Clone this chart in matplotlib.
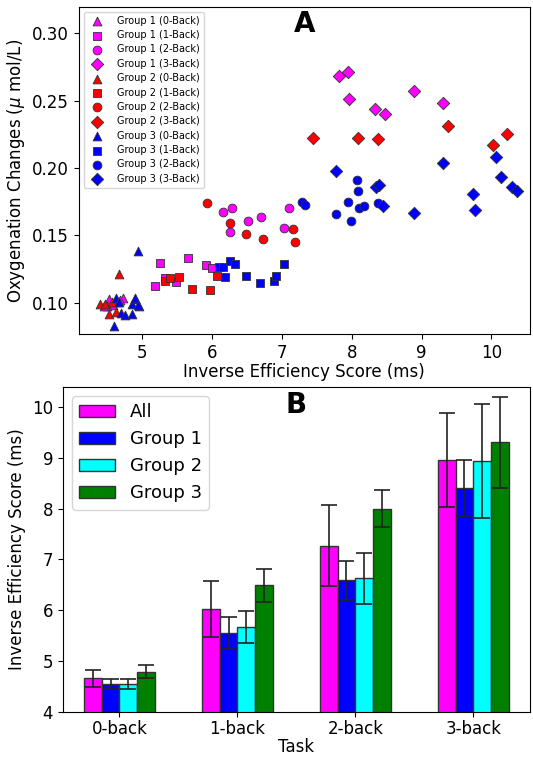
import matplotlib
matplotlib.use("Agg")
import matplotlib.pyplot as plt
import numpy as np

# ---------------- Panel A data ----------------
g1_0_x = [4.52, 4.72, 4.58, 4.49, 4.63, 4.45, 4.68]
g1_0_y = [0.1029, 0.1036, 0.0985, 0.0977, 0.1007, 0.0977, 0.1022]
g1_1_x = [5.25, 5.66, 5.18, 5.48, 5.91, 5.99, 5.33]
g1_1_y = [0.1294, 0.1335, 0.1123, 0.1157, 0.1281, 0.1257, 0.1182]
g1_2_x = [6.16, 6.28, 6.51, 6.70, 6.26, 7.03, 7.10]
g1_2_y = [0.1672, 0.1706, 0.1605, 0.1637, 0.1524, 0.1553, 0.1700]
g1_3_x = [7.81, 7.94, 7.96, 8.33, 8.48, 8.89, 9.30]
g1_3_y = [0.2685, 0.2710, 0.2515, 0.2438, 0.2404, 0.2574, 0.2485]

g2_0_x = [4.39, 4.46, 4.52, 4.56, 4.62, 4.66]
g2_0_y = [0.0992, 0.0992, 0.0918, 0.1007, 0.0933, 0.1215]
g2_1_x = [5.32, 5.40, 5.52, 5.71, 5.97, 6.07]
g2_1_y = [0.1165, 0.1182, 0.1192, 0.1105, 0.1098, 0.1202]
g2_2_x = [5.93, 6.26, 6.48, 6.73, 7.16, 7.19]
g2_2_y = [0.1743, 0.1593, 0.1513, 0.1476, 0.1548, 0.1454]
g2_3_x = [7.44, 8.09, 8.37, 9.38, 10.02, 10.22]
g2_3_y = [0.2221, 0.2226, 0.2218, 0.2315, 0.2171, 0.2251]

g3_0_x = [4.94, 4.59, 4.62, 4.66, 4.69, 4.75, 4.85, 4.90, 4.85, 4.95, 4.89, 4.93]
g3_0_y = [0.1387, 0.0829, 0.1036, 0.1007, 0.0925, 0.0910, 0.0918, 0.1029,
          0.0992, 0.0977, 0.1036, 0.0985]
g3_1_x = [6.10, 6.15, 6.26, 6.33, 6.19, 6.49, 6.68, 6.89, 6.91, 7.03]
g3_1_y = [0.1264, 0.1264, 0.1311, 0.1289, 0.1190, 0.1197, 0.1148, 0.1160,
          0.1199, 0.1291]
g3_2_x = [7.28, 7.33, 8.07, 8.09, 7.95, 7.77, 7.99, 8.11, 8.17, 8.38]
g3_2_y = [0.1746, 0.1729, 0.1912, 0.1832, 0.1749, 0.1662, 0.1605, 0.1700,
          0.1715, 0.1739]
g3_3_x = [7.78, 9.30, 8.35, 8.39, 8.45, 8.89, 9.74, 9.76, 10.06, 10.14, 10.29, 10.36]
g3_3_y = [0.1976, 0.2038, 0.1862, 0.1877, 0.1721, 0.1664, 0.1806, 0.1692,
          0.2080, 0.1936, 0.1860, 0.1830]

# ---------------- Panel B data ----------------
tasks = ["0-back", "1-back", "2-back", "3-back"]
bar_labels = ["All", "Group 1", "Group 2", "Group 3"]
ies_all = [4.66, 6.03, 7.27, 8.96]
ies_g1 = [4.55, 5.55, 6.59, 8.40]
ies_g2 = [4.55, 5.67, 6.63, 8.93]
ies_g3 = [4.79, 6.49, 8.00, 9.30]
err_all = [0.16, 0.55, 0.80, 0.92]
err_g1 = [0.09, 0.32, 0.38, 0.55]
err_g2 = [0.10, 0.31, 0.50, 1.12]
err_g3 = [0.125, 0.32, 0.37, 0.89]

fig = plt.figure(figsize=(5.33, 7.58), dpi=100)
axA = fig.add_axes([0.148, 0.5594, 0.846, 0.4314])
axB = fig.add_axes([0.118, 0.0607, 0.876, 0.4287])

series = [
    ("Group 1 (0-Back)", g1_0_x, g1_0_y, "magenta", "^"),
    ("Group 1 (1-Back)", g1_1_x, g1_1_y, "magenta", "s"),
    ("Group 1 (2-Back)", g1_2_x, g1_2_y, "magenta", "o"),
    ("Group 1 (3-Back)", g1_3_x, g1_3_y, "magenta", "D"),
    ("Group 2 (0-Back)", g2_0_x, g2_0_y, "red", "^"),
    ("Group 2 (1-Back)", g2_1_x, g2_1_y, "red", "s"),
    ("Group 2 (2-Back)", g2_2_x, g2_2_y, "red", "o"),
    ("Group 2 (3-Back)", g2_3_x, g2_3_y, "red", "D"),
    ("Group 3 (0-Back)", g3_0_x, g3_0_y, "blue", "^"),
    ("Group 3 (1-Back)", g3_1_x, g3_1_y, "blue", "s"),
    ("Group 3 (2-Back)", g3_2_x, g3_2_y, "blue", "o"),
    ("Group 3 (3-Back)", g3_3_x, g3_3_y, "blue", "D"),
]
for lab, xs, ys, c, m in series:
    axA.scatter(xs, ys, c=c, marker=m, s=40, edgecolors="#333333",
                linewidths=0.6, label=lab)
axA.set_xlim(4.09, 10.55)
axA.set_ylim(0.0769, 0.3195)
axA.set_xticks([5, 6, 7, 8, 9, 10])
axA.set_yticks([0.10, 0.15, 0.20, 0.25, 0.30])
axA.tick_params(labelsize=12)
axA.set_xlabel("Inverse Efficiency Score (ms)", fontsize=12, labelpad=1)
axA.set_ylabel(r"Oxygenation Changes ($\mu$ mol/L)", fontsize=12)
axA.legend(loc="upper left", fontsize=7, scatterpoints=1, labelspacing=0.45,
           handletextpad=1.0)
axA.text(0.5, 0.948, "A", transform=axA.transAxes, ha="center", va="center",
         fontsize=20, fontweight="bold")

x = np.arange(len(tasks))
w = 0.15
vals = [ies_all, ies_g1, ies_g2, ies_g3]
errs = [err_all, err_g1, err_g2, err_g3]
cols = ["magenta", "blue", "cyan", "green"]
for i in range(4):
    axB.bar(x + (i - 1.5) * w, vals[i], w, yerr=errs[i], color=cols[i],
            edgecolor="#333333", linewidth=1, capsize=6, ecolor="#222222",
            error_kw=dict(elinewidth=1.2, capthick=1.2), label=bar_labels[i])
axB.set_ylim(4, 10.39)
axB.set_xticks(x)
axB.set_xticklabels(tasks)
axB.tick_params(labelsize=12)
axB.tick_params(axis="x", pad=2)
axB.set_xlabel("Task", fontsize=12, labelpad=0)
axB.set_ylabel("Inverse Efficiency Score (ms)", fontsize=12)
axB.legend(loc="upper left", fontsize=13)
axB.text(0.5, 0.945, "B", transform=axB.transAxes, ha="center", va="center",
         fontsize=20, fontweight="bold")

fig.savefig("out.png", dpi=100)
